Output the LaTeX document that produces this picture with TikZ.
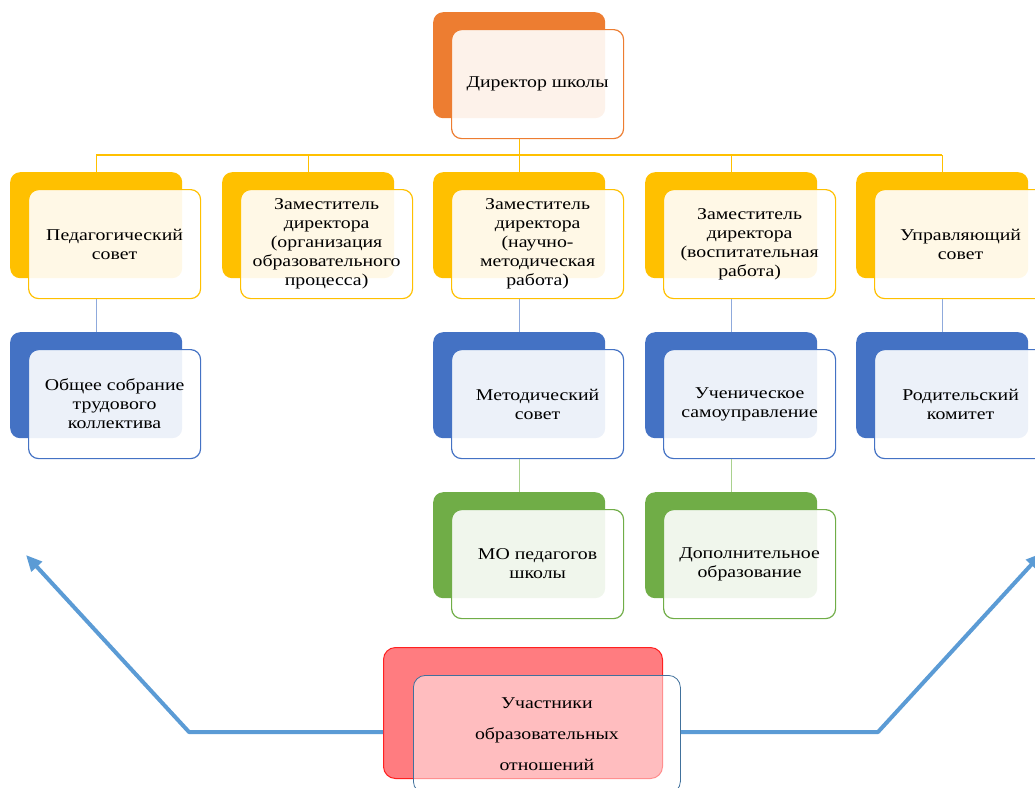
\documentclass[tikz,border=0pt]{standalone}
\usepackage{fontspec}
\setmainfont{Liberation Serif}[FakeStretch=1.2]
\usetikzlibrary{arrows.meta}
\definecolor{corange}{HTML}{ED7D31}
\definecolor{cyellow}{HTML}{FFC000}
\definecolor{cblue}{HTML}{4472C4}
\definecolor{cgreen}{HTML}{70AD47}
\definecolor{cred}{HTML}{FF7C80}
\definecolor{credline}{HTML}{FF2020}
\definecolor{cfrontred}{HTML}{41719C}
\definecolor{cbluecon}{HTML}{8FAADC}
\definecolor{cgreencon}{HTML}{A9D18E}
\definecolor{carrow}{HTML}{5B9BD5}
\tikzset{
  backbox/.style={rounded corners=10pt, minimum width=172pt, minimum height=106pt,
    anchor=north west, inner sep=0pt},
  frontbox/.style={rounded corners=10pt, minimum width=172pt, minimum height=109pt,
    anchor=north west, fill=white, fill opacity=0.9, text opacity=1, align=center,
    line width=1.2pt, inner sep=0pt, font=\fontsize{16.5}{19}\selectfont},
  yconn/.style={draw=cyellow, line width=1.2pt},
  bconn/.style={draw=cbluecon, line width=1.2pt},
  gconn/.style={draw=cgreencon, line width=1.2pt},
  arrowline/.style={draw=carrow, line width=4pt, line join=round},
}
\newcommand\orgpair[5]{%
  \node[backbox, fill=#4] (#1b) at (#2,#3) {};
  \node[frontbox, draw=#4] (#1) at (#2+18,#3+17) {#5};
}
\begin{document}
\begin{tikzpicture}[x=1pt,y=-1pt]
\useasboundingbox (0,0) rectangle (1035,787);
\coordinate (bus) at (0,155);
\coordinate (lc) at (189,732);
\coordinate (la) at (26,555);
\coordinate (rc) at (878,732);
\coordinate (ra) at (1042,553);

% top
\orgpair{dir}{433}{12}{corange}{Директор школы}
% row 1
\orgpair{p1}{10}{172}{cyellow}{Педагогический\\совет}
\orgpair{p2}{222}{172}{cyellow}{Заместитель\\директора\\(организация\\образовательного\\процесса)}
\orgpair{p3}{433}{172}{cyellow}{Заместитель\\директора\\(научно-\\методическая\\работа)}
\orgpair{p4}{645}{172}{cyellow}{Заместитель\\директора\\(воспитательная\\работа)}
\orgpair{p5}{856}{172}{cyellow}{Управляющий\\совет}
% row 2
\orgpair{q1}{10}{332}{cblue}{Общее собрание\\трудового\\коллектива}
\orgpair{q3}{433}{332}{cblue}{Методический\\совет}
\orgpair{q4}{645}{332}{cblue}{Ученическое\\самоуправление}
\orgpair{q5}{856}{332}{cblue}{Родительский\\комитет}
% row 3
\orgpair{g3}{433}{492}{cgreen}{МО педагогов\\школы}
\orgpair{g4}{645}{492}{cgreen}{Дополнительное\\образование}

% connectors
\draw[yconn] (dirb |- dir.south) -- (dirb |- bus);
\draw[yconn] (p1b |- bus) -- (p5b |- bus);
\foreach \n in {p1,p2,p3,p4,p5}{\draw[yconn] (\n b |- bus) -- (\n b.north);}
\foreach \n in {1,3,4,5}{\draw[bconn] (p\n b |- p\n.south) -- (q\n b.north);}
\foreach \n in {3,4}{\draw[gconn] (q\n b |- q\n.south) -- (g\n b.north);}

% bottom
\node[rounded corners=12pt, fill=cred, draw=credline, line width=1pt, minimum width=279pt,
  minimum height=131pt, anchor=north west, inner sep=0pt] (rb) at (383,647) {};
\draw[arrowline, -{Triangle[length=16pt,width=14pt]}] (rb.west |- lc) -- (lc) -- (la);
\node[rounded corners=12pt, fill=white, fill opacity=0.5, text opacity=1, draw=cfrontred,
  line width=0.8pt, minimum width=267pt, minimum height=118pt, anchor=north west,
  inner sep=0pt, align=center, font=\fontsize{16.5}{31}\selectfont] (r) at (413,675)
  {Участники\\образовательных\\отношений};
\draw[arrowline, -{Triangle[length=16pt,width=14pt]}] (r.east |- rc) -- (rc) -- (ra);
\end{tikzpicture}
\end{document}
